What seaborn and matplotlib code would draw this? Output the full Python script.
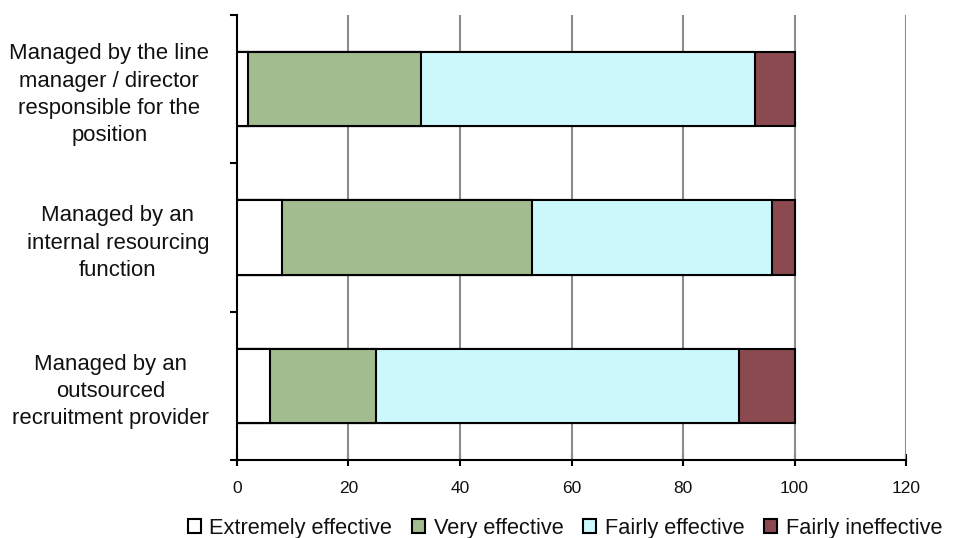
import numpy as np
import pandas as pd
import matplotlib
matplotlib.use("Agg")
import matplotlib.pyplot as plt
from matplotlib.patches import Patch
import seaborn as sns

categories = [
    "Managed by the line\nmanager / director\nresponsible for the\nposition",
    "Managed by an\ninternal resourcing\nfunction",
    "Managed by an\noutsourced\nrecruitment provider",
]
series_names = ["Extremely effective", "Very effective", "Fairly effective", "Fairly ineffective"]
extremely_effective = [2, 8, 6]
very_effective = [31, 45, 19]
fairly_effective = [60, 43, 65]
fairly_ineffective = [7, 4, 10]
x_ticks = [0, 20, 40, 60, 80, 100, 120]

colors = ["#FFFFFF", "#A2BC8F", "#CCF8FC", "#8A4A4F"]

sns.set_theme(style="white")
plt.rcParams["font.family"] = ["Liberation Sans", "DejaVu Sans"]
plt.rcParams["text.color"] = "#111111"
plt.rcParams["xtick.color"] = "black"
plt.rcParams["ytick.color"] = "black"
plt.rcParams["xtick.labelcolor"] = "#111111"
plt.rcParams["ytick.labelcolor"] = "#111111"

df = pd.DataFrame({
    "category": categories,
    series_names[0]: extremely_effective,
    series_names[1]: very_effective,
    series_names[2]: fairly_effective,
    series_names[3]: fairly_ineffective,
})
cum = df[series_names].cumsum(axis=1)
cum["category"] = categories

fig = plt.figure(figsize=(9.61, 5.38), dpi=100)
ax = fig.add_axes([0.2466, 0.145, 0.6962, 0.8271])

# stacked bars: draw cumulative totals from the outermost segment inward
for name, col in reversed(list(zip(series_names, colors))):
    sns.barplot(data=cum, x=name, y="category",
                orient="h", color=col, width=0.5, edgecolor="black",
                linewidth=1.5, saturation=1, ax=ax, zorder=3)

ax.set_xlim(0, 120)
ax.set_ylim(2.5, -0.5)
ax.set_xticks(x_ticks)
ax.set_xticklabels([str(t) for t in x_ticks], fontsize=12.5)
ax.set_xlabel("")
ax.set_ylabel("")

# gridlines at the x ticks
for t in x_ticks[1:]:
    ax.axvline(t, color="#8C8C8C", linewidth=1.5, zorder=1)

# category labels centered beside each bar, ticks at category boundaries
ax.set_yticks(range(len(categories)))
ax.set_yticklabels(categories, fontsize=15.9, multialignment="center", linespacing=1.39)
ax.tick_params(axis="y", which="major", length=0, pad=20)
ax.set_yticks([-0.5, 0.5, 1.5, 2.5], minor=True)
ax.tick_params(axis="y", which="minor", length=5, width=1.5, color="black", direction="out", left=True)
ax.tick_params(axis="x", which="major", length=8, width=1.5, color="black", direction="inout", bottom=True, pad=11)

for s in ["top", "right"]:
    ax.spines[s].set_visible(False)
for s in ["left", "bottom"]:
    ax.spines[s].set_color("black")
    ax.spines[s].set_linewidth(1.5)

handles = [Patch(facecolor=c, edgecolor="black", linewidth=1.5) for c in colors]
fig.legend(handles, series_names, loc="center", bbox_to_anchor=(0.588, 0.018),
           ncol=4, frameon=False, fontsize=15.7, handlelength=0.6, handleheight=0.6,
           handletextpad=0.4, columnspacing=0.9, borderpad=0)

fig.savefig("out.png", dpi=100)
